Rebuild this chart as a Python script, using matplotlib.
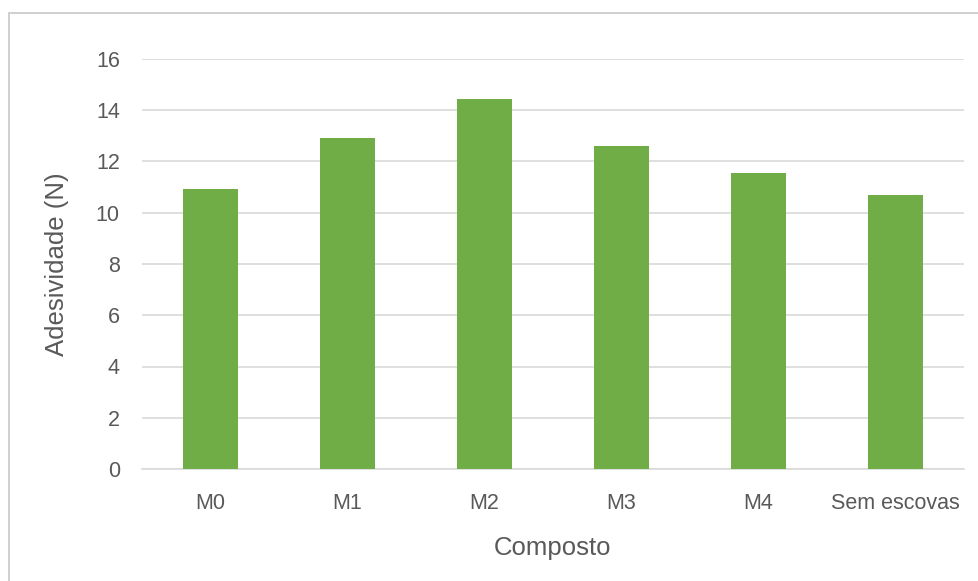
import matplotlib
matplotlib.use("Agg")
import matplotlib.pyplot as plt
from matplotlib.patches import Rectangle

# data
categories = ["M0", "M1", "M2", "M3", "M4", "Sem escovas"]
adesividade = [10.91, 12.93, 14.45, 12.59, 11.56, 10.71]
y_ticks = [0, 2, 4, 6, 8, 10, 12, 14, 16]

bar_color = "#70AD47"
text_color = "#595959"
grid_color = "#D9D9D9"

plt.rcParams["font.family"] = ["Liberation Sans", "DejaVu Sans"]

W, H = 979, 581
fig = plt.figure(figsize=(W / 100, H / 100), dpi=100)
ax = fig.add_axes([142 / W, (H - 469) / H, (964 - 142) / W, (469 - 59) / H])

# outer chart frame (continues past the right / bottom edge of the picture)
fig.patches.append(Rectangle((9 / W, -0.2), 1.2, 1.2 - 13 / H,
                             transform=fig.transFigure, fill=False,
                             edgecolor="#C8C8C8", linewidth=1.2))

xlocs = list(range(len(categories)))
ax.bar(xlocs, adesividade, width=0.40, color=bar_color, zorder=3)

ax.set_xlim(-0.5, len(categories) - 0.5)
ax.set_ylim(0, 16)
ax.set_yticks(y_ticks)
ax.set_xticks(xlocs)
ax.set_xticklabels(categories)

ax.grid(axis="y", color=grid_color, linewidth=1.2, zorder=0)
for s in ["top", "right", "left"]:
    ax.spines[s].set_visible(False)
ax.spines["bottom"].set_color(grid_color)
ax.spines["bottom"].set_linewidth(1.2)

ax.tick_params(axis="x", length=0, pad=17, labelsize=15.5, labelcolor=text_color)
ax.tick_params(axis="y", length=0, pad=16, labelsize=15.5, labelcolor=text_color)

ax.set_xlabel("Composto", fontsize=18.5, color=text_color, labelpad=16)
ax.set_ylabel("Adesividade (N)", fontsize=18.5, color=text_color, labelpad=19)

fig.savefig("out.png", dpi=100)
